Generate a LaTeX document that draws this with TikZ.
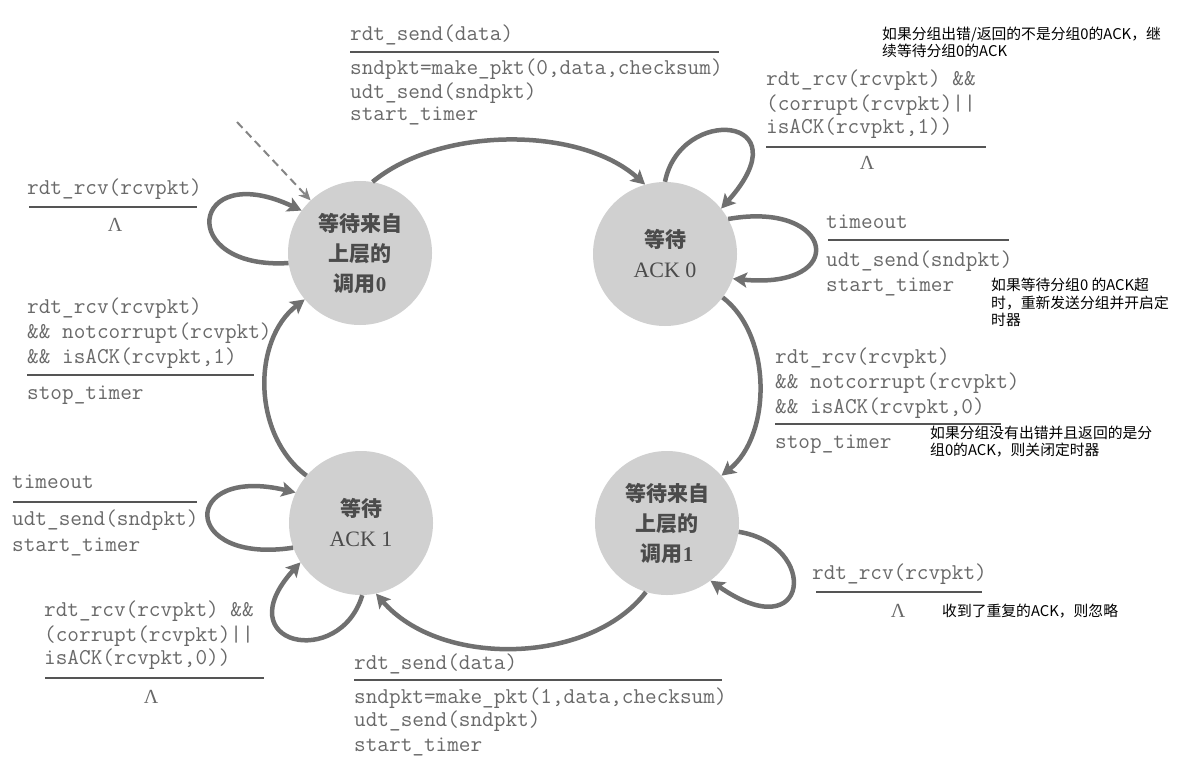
\documentclass[tikz,border=0pt]{standalone}
\usepackage{fontspec}
\newfontfamily\cjk{Noto Sans CJK SC}
\newfontfamily\serif{Liberation Serif}
\usetikzlibrary{arrows.meta}
\definecolor{arr}{RGB}{112,112,112}
\definecolor{fillc}{RGB}{208,208,208}
\definecolor{codec}{RGB}{105,105,105}
\definecolor{rulec}{RGB}{85,85,85}
\definecolor{statec}{RGB}{75,75,75}
\begin{document}
\begin{tikzpicture}[x=1pt,y=-1pt,
 state/.style={circle, fill=fillc, minimum size=144pt, inner sep=0pt, align=center, text=statec, font=\fontsize{21}{30}\selectfont\cjk\bfseries},
 code/.style={anchor=base west, inner sep=0pt, text=codec, font=\fontsize{22.6}{24}\selectfont\ttfamily},
 rulel/.style={draw=rulec, line width=1.8pt},
 lam/.style={inner sep=0pt, text=codec, font=\fontsize{20}{20}\selectfont\serif},
 note/.style={anchor=base west, inner sep=0pt, text=black, font=\fontsize{14.8}{17}\selectfont\cjk},
 trans/.style={draw=arr, line width=4.5pt, -{Stealth[length=14pt,width=15pt,inset=3pt]}},
 initarr/.style={draw=arr!85, line width=2pt, dash pattern=on 8pt off 5pt, -{Stealth[length=12pt,width=11pt]}},
 ]
\useasboundingbox[fill=white] (0,0) rectangle (1190,770);

% states
\node[state] (s0) at (360,253) {等待来自\\上层的\\调用{\serif 0}};
\node[state] (s1) at (665,254) {等待\\{\serif\mdseries\fontsize{22}{30}\selectfont ACK 0}};
\node[state] (s2) at (667,523) {等待来自\\上层的\\调用{\serif 1}};
\node[state] (s3) at (361,523) {等待\\{\serif\mdseries\fontsize{22}{30}\selectfont ACK 1}};

% initial arrow
\coordinate (init) at (237,122);
\draw[initarr] (init) -- (s0);

% main transitions
\draw[trans] (s0.80) .. controls (440,126) and (580,126) .. (s1.106);
\draw[trans] (s1.-37) .. controls (772,335) and (772,435) .. (s2.41);
\draw[trans] (s2.-107) .. controls (590,665) and (440,668) .. (s3.-78);
\draw[trans] (s3.139) .. controls (252,435) and (252,340) .. (s0.-140);

% self loops
\draw[trans] (s0.188) .. controls (175,270) and (190,158) .. (s0.144);
\draw[trans] (s1.90) .. controls (680,105) and (805,115) .. (s1.39);
\draw[trans] (s1.29) .. controls (835,200) and (850,290) .. (s1.-20);
\draw[trans] (s2.-7) .. controls (820,545) and (810,650) .. (s2.-53);
\draw[trans] (s3.200) .. controls (180,565) and (180,465) .. (s3.155);
\draw[trans] (s3.-89) .. controls (340,670) and (225,645) .. (s3.-147);

% top label (S0 -> S1)
\node[code] (t1) at (350,41) {rdt\_send(data)};
\draw[rulel] (350,52) -- (719,52);
\node[code] (t2) at (350,75) {sndpkt=make\_pkt(0,data,checksum)};
\node[code] (t3) at (350,99) {udt\_send(sndpkt)};
\node[code] (t4) at (350,121) {start\_timer};

% S1 top loop label
\node[code] (a1) at (766,86) {rdt\_rcv(rcvpkt) \&\&};
\node[code] (a2) at (766,111) {(corrupt(rcvpkt)||};
\node[code] (a3) at (766,134) {isACK(rcvpkt,1))};
\draw[rulel] (766,147) -- (986,147);
\node[lam] (a4) at (867,163) {Λ};

% S1 timeout label
\node[code] (b1) at (826,228) {timeout};
\draw[rulel] (828,240) -- (1009,240);
\node[code] (b2) at (826,266) {udt\_send(sndpkt)};
\node[code] (b3) at (826,291) {start\_timer};

% S1 -> S2 label
\node[code] (c1) at (775,363) {rdt\_rcv(rcvpkt)};
\node[code] (c2) at (775,388) {\&\& notcorrupt(rcvpkt)};
\node[code] (c3) at (775,413) {\&\& isACK(rcvpkt,0)};
\draw[rulel] (775,424) -- (1001,424);
\node[code] (c4) at (775,448) {stop\_timer};

% S2 loop label
\node[code] (d1) at (812,579) {rdt\_rcv(rcvpkt)};
\draw[rulel] (816,592) -- (982,592);
\node[lam] (d2) at (898,611) {Λ};

% bottom label (S2 -> S3)
\node[code] (e1) at (354,669) {rdt\_send(data)};
\draw[rulel] (354,680) -- (722,680);
\node[code] (e2) at (354,703) {sndpkt=make\_pkt(1,data,checksum)};
\node[code] (e3) at (354,726) {udt\_send(sndpkt)};
\node[code] (e4) at (354,751) {start\_timer};

% S3 bottom loop label
\node[code] (f1) at (44,616) {rdt\_rcv(rcvpkt) \&\&};
\node[code] (f2) at (44,641) {(corrupt(rcvpkt)||};
\node[code] (f3) at (44,664) {isACK(rcvpkt,0))};
\draw[rulel] (45,678) -- (264,678);
\node[lam] (f4) at (151,697) {Λ};

% S3 timeout label
\node[code] (g1) at (12,488) {timeout};
\draw[rulel] (13,502) -- (197,502);
\node[code] (g2) at (12,525) {udt\_send(sndpkt)};
\node[code] (g3) at (12,551) {start\_timer};

% S3 -> S0 label
\node[code] (h1) at (27,313) {rdt\_rcv(rcvpkt)};
\node[code] (h2) at (27,338) {\&\& notcorrupt(rcvpkt)};
\node[code] (h3) at (27,363) {\&\& isACK(rcvpkt,1)};
\draw[rulel] (27,375) -- (254,375);
\node[code] (h4) at (27,399) {stop\_timer};

% S0 loop label
\node[code] (k1) at (27,194) {rdt\_rcv(rcvpkt)};
\draw[rulel] (29,207) -- (197,207);
\node[lam] (k2) at (115,225) {Λ};

% notes
\node[note] (n1a) at (882,40) {如果分组出错/返回的不是分组0的ACK，继};
\node[note] (n1b) at (882,57) {续等待分组0的ACK};
\node[note] (n2a) at (991,290) {如果等待分组0 的ACK超};
\node[note] (n2b) at (991,308) {时，重新发送分组并开启定};
\node[note] (n2c) at (991,325) {时器};
\node[note] (n3a) at (930,438) {如果分组没有出错并且返回的是分};
\node[note] (n3b) at (930,455) {组0的ACK，则关闭定时器};
\node[note] (n4) at (942,616) {收到了重复的ACK，则忽略};
\end{tikzpicture}
\end{document}
